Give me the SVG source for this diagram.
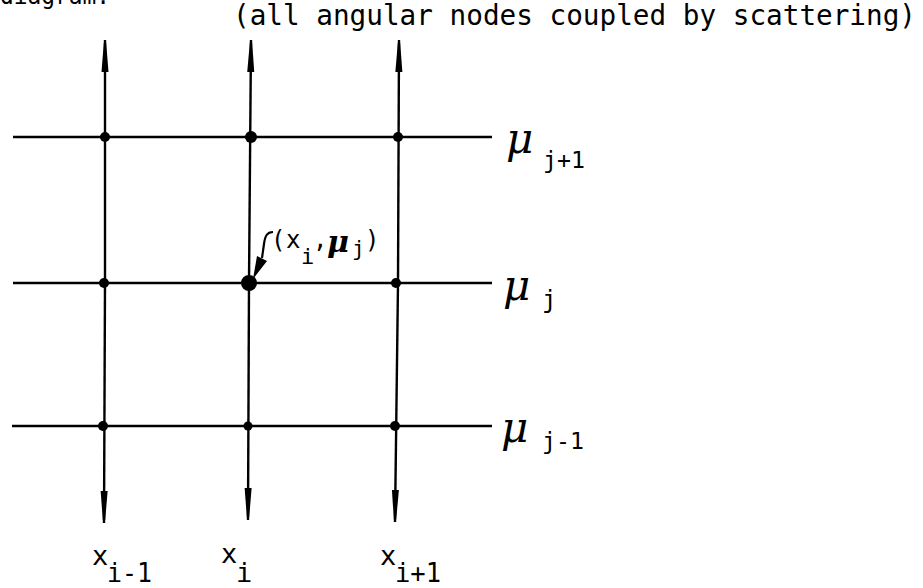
<svg xmlns="http://www.w3.org/2000/svg" width="923" height="588" viewBox="0 0 923 588">
<style>
.ln{stroke:#000;stroke-width:2.4;fill:none}
.t{font-family:"DejaVu Sans Mono","Liberation Mono",monospace;fill:#000}
.mu{font-family:"DejaVu Serif","Liberation Serif",serif;font-style:italic;fill:#000}
</style>
<defs>
<marker id="ah" viewBox="0 0 32 10" refX="32" refY="5" markerWidth="32" markerHeight="10" markerUnits="userSpaceOnUse" orient="auto">
<path d="M0,1.5 L29,3.8 L32,5 L29,6.2 L0,8.5 Z" fill="#000"/>
</marker>
</defs>
<rect width="923" height="588" fill="#fff"/>
<text class="t" x="0" y="4" font-size="24" textLength="110" lengthAdjust="spacingAndGlyphs">diagram:</text>
<text class="t" x="233" y="25" font-size="28" textLength="683" lengthAdjust="spacingAndGlyphs">(all angular nodes coupled by scattering)</text>
<g id="connectors">
<line class="ln" x1="13" y1="137" x2="492" y2="137"/>
<line class="ln" x1="13" y1="283" x2="492" y2="283"/>
<line class="ln" x1="12" y1="426" x2="492" y2="426"/>
<line class="ln" x1="105" y1="283" x2="105" y2="40" marker-end="url(#ah)"/>
<line class="ln" x1="249" y1="283" x2="251" y2="40" marker-end="url(#ah)"/>
<line class="ln" x1="398" y1="283" x2="399" y2="40" marker-end="url(#ah)"/>
<line class="ln" x1="105" y1="283" x2="104" y2="523" marker-end="url(#ah)"/>
<line class="ln" x1="249" y1="283" x2="248" y2="520" marker-end="url(#ah)"/>
<line class="ln" x1="398" y1="283" x2="395" y2="522" marker-end="url(#ah)"/>
<path d="M273,232 C267,232 265,236 264,244 L262,258" stroke="#000" stroke-width="2.2" fill="none"/>
<path d="M253,279 L257,256 L267,261 Z" fill="#000"/>
</g>
<g id="nodes">
<g id="n-im1-jp1"><circle cx="105" cy="137" r="5"/></g>
<g id="n-i-jp1"><circle cx="251" cy="137" r="6"/></g>
<g id="n-ip1-jp1"><circle cx="398" cy="137" r="5"/></g>
<g id="n-im1-j"><circle cx="104" cy="283" r="5"/></g>
<g id="n-i-j"><circle cx="249" cy="283" r="8"/></g>
<g id="n-ip1-j"><circle cx="396" cy="283" r="5"/></g>
<g id="n-im1-jm1"><circle cx="103" cy="426" r="5"/></g>
<g id="n-i-jm1"><circle cx="248" cy="426" r="4.5"/></g>
<g id="n-ip1-jm1"><circle cx="395" cy="426" r="5"/></g>
</g>
<g id="labels">
<text class="mu" x="506" y="153" font-size="42">μ</text>
<text class="t" x="543" y="168" font-size="23" textLength="42" lengthAdjust="spacingAndGlyphs">j+1</text>
<text class="mu" x="503" y="300" font-size="42">μ</text>
<text class="t" x="542" y="308" font-size="24">j</text>
<text class="mu" x="501" y="442" font-size="42">μ</text>
<text class="t" x="542" y="449" font-size="23" textLength="42" lengthAdjust="spacingAndGlyphs">j-1</text>
<text class="t" x="92" y="565" font-size="27">x</text>
<text class="t" x="107" y="582" font-size="27" textLength="45" lengthAdjust="spacingAndGlyphs">i-1</text>
<text class="t" x="221" y="563" font-size="27">x</text>
<text class="t" x="236" y="582" font-size="27">i</text>
<text class="t" x="380" y="565" font-size="27">x</text>
<text class="t" x="395" y="582" font-size="27" textLength="46" lengthAdjust="spacingAndGlyphs">i+1</text>
<text class="t" x="271" y="248" font-size="24">(</text>
<text class="t" x="286" y="248" font-size="24">x</text>
<text class="t" x="301" y="264" font-size="22">i</text>
<text class="t" x="313" y="248" font-size="24">,</text>
<text class="mu" x="327" y="252" font-size="30" font-weight="bold">μ</text>
<text class="t" x="352" y="256" font-size="21">j</text>
<text class="t" x="365" y="248" font-size="24">)</text>
</g>
</svg>
